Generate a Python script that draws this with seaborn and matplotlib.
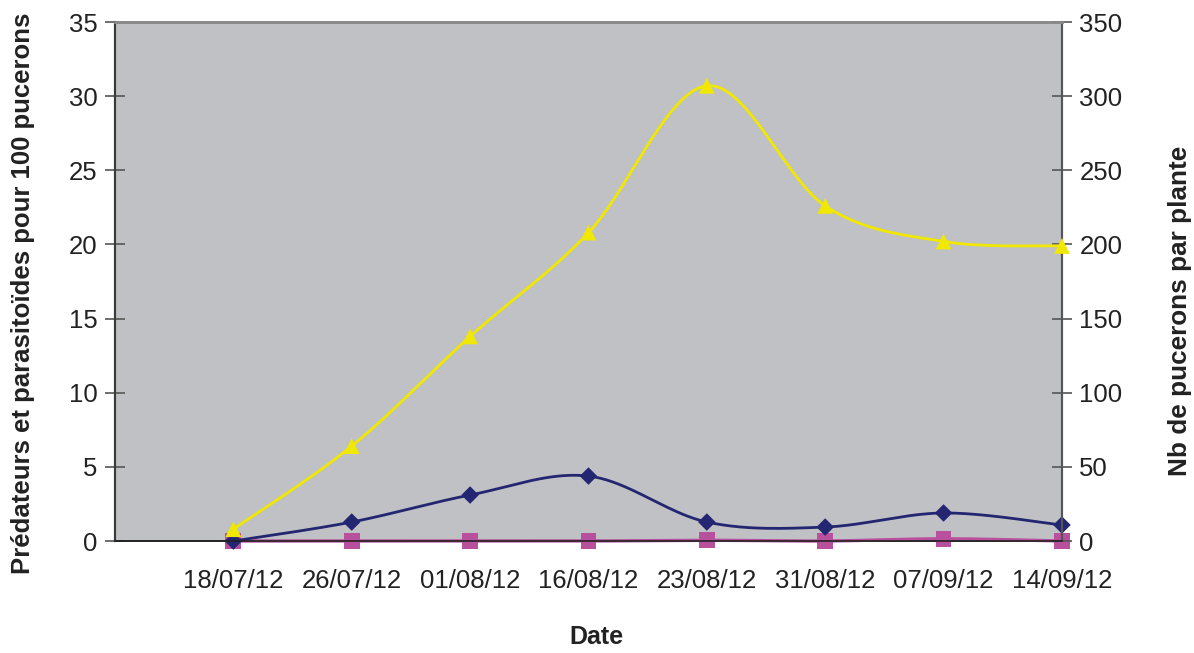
import numpy as np
import pandas as pd
import matplotlib
matplotlib.use('Agg')
import matplotlib.pyplot as plt
import seaborn as sns

# Data
dates = ['18/07/12', '26/07/12', '01/08/12', '16/08/12', '23/08/12', '31/08/12', '07/09/12', '14/09/12']
predateurs = [0.0, 1.28, 3.1, 4.38, 1.28, 0.94, 1.89, 1.08]       # left axis
parasitoides = [0.0, 0.0, 0.0, 0.0, 0.05, 0.0, 0.15, 0.0]         # left axis
pucerons = [8, 64, 138, 208, 307, 226, 202, 199]                  # right axis


def smooth(y, n=40):
    # Excel-style smoothed line: Bezier segments with Catmull-Rom tangents
    x = np.arange(1, len(y) + 1, dtype=float)
    y = np.asarray(y, dtype=float)
    px = np.concatenate([[x[0]], x, [x[-1]]])
    py = np.concatenate([[y[0]], y, [y[-1]]])
    t = np.linspace(0, 1, n)[:, None]
    xs, ys = [], []
    for i in range(1, len(px) - 2):
        p0 = np.array([px[i], py[i]])
        p3 = np.array([px[i + 1], py[i + 1]])
        p1 = p0 + (p3 - np.array([px[i - 1], py[i - 1]])) / 6
        p2 = p3 - (np.array([px[i + 2], py[i + 2]]) - p0) / 6
        b = ((1 - t) ** 3) * p0 + 3 * ((1 - t) ** 2) * t * p1 + 3 * (1 - t) * t ** 2 * p2 + t ** 3 * p3
        xs.append(b[:, 0])
        ys.append(b[:, 1])
    return np.concatenate(xs), np.concatenate(ys)


sns.set_style('white')
plt.rcParams['font.family'] = ['Liberation Sans', 'DejaVu Sans']

fig = plt.figure(figsize=(11.94, 6.53), dpi=100)
ax = fig.add_axes([0.0963, 0.1715, 0.7931, 0.7948])
ax2 = ax.twinx()

navy = '#232670'
magenta = '#B8509E'
yellow = '#F0E800'
pos = np.arange(1, len(dates) + 1)

sx, sy = smooth(parasitoides)
sns.lineplot(x=sx, y=sy, ax=ax, color=magenta, lw=2.4, sort=False, estimator=None, clip_on=False, zorder=3)
sns.scatterplot(x=pos, y=parasitoides, ax=ax, color=magenta, marker='s', s=130, edgecolor='none',
                zorder=4, clip_on=False)

sx, sy = smooth(predateurs)
sns.lineplot(x=sx, y=sy, ax=ax, color=navy, lw=2.0, sort=False, estimator=None, clip_on=False, zorder=5)
sns.scatterplot(x=pos, y=predateurs, ax=ax, color=navy, marker='D', s=80, edgecolor='none',
                zorder=6, clip_on=False)

sx, sy = smooth(pucerons)
sns.lineplot(x=sx, y=sy, ax=ax2, color=yellow, lw=2.0, sort=False, estimator=None, clip_on=False)
sns.scatterplot(x=pos, y=pucerons, ax=ax2, color=yellow, marker='^', s=130, edgecolor='none',
                zorder=4, clip_on=False)

ax.set_facecolor('#C0C1C5')
ax2.patch.set_visible(False)

ax.set_xlim(0, len(dates))
ax.set_ylim(0, 35)
ax2.set_ylim(0, 350)
ax.set_xticks(range(0, len(dates) + 1))
ax.set_xticklabels([''] + dates)
ax.set_yticks(range(0, 36, 5))
ax2.set_yticks(range(0, 351, 50))

for a in (ax, ax2):
    a.tick_params(axis='both', direction='inout', length=15, width=1.2, color='#555555',
                  labelsize=18.5, labelcolor='#222222', pad=5)
ax.tick_params(axis='x', pad=13)

for a in (ax, ax2):
    a.spines['top'].set_color('#8a8a8a')
    a.spines['top'].set_linewidth(2)
    a.spines['left'].set_color('#3a3a3a')
    a.spines['left'].set_linewidth(1.5)
    a.spines['right'].set_color('#555555')
    a.spines['right'].set_linewidth(1.5)
    a.spines['bottom'].set_color('#222222')
    a.spines['bottom'].set_linewidth(1.2)

ax.set_xlabel('')
ax.set_ylabel('')
ax2.set_ylabel('')

# axis titles placed like the Excel original
W, H = 1194, 653
fig.text(596 / W, 1 - 637 / H, 'Date', fontsize=18, fontweight='bold', color='#222222',
         ha='center', va='center')
fig.text(23 / W, 1 - 293 / H, 'Prédateurs et parasitoïdes pour 100 pucerons', fontsize=18.5,
         fontweight='bold', color='#222222', rotation=90, ha='center', va='center')
fig.text(1180 / W, 1 - 311 / H, 'Nb de pucerons par plante', fontsize=18.8, fontweight='bold',
         color='#222222', rotation=90, ha='center', va='center')

fig.savefig('out.png', dpi=100)
